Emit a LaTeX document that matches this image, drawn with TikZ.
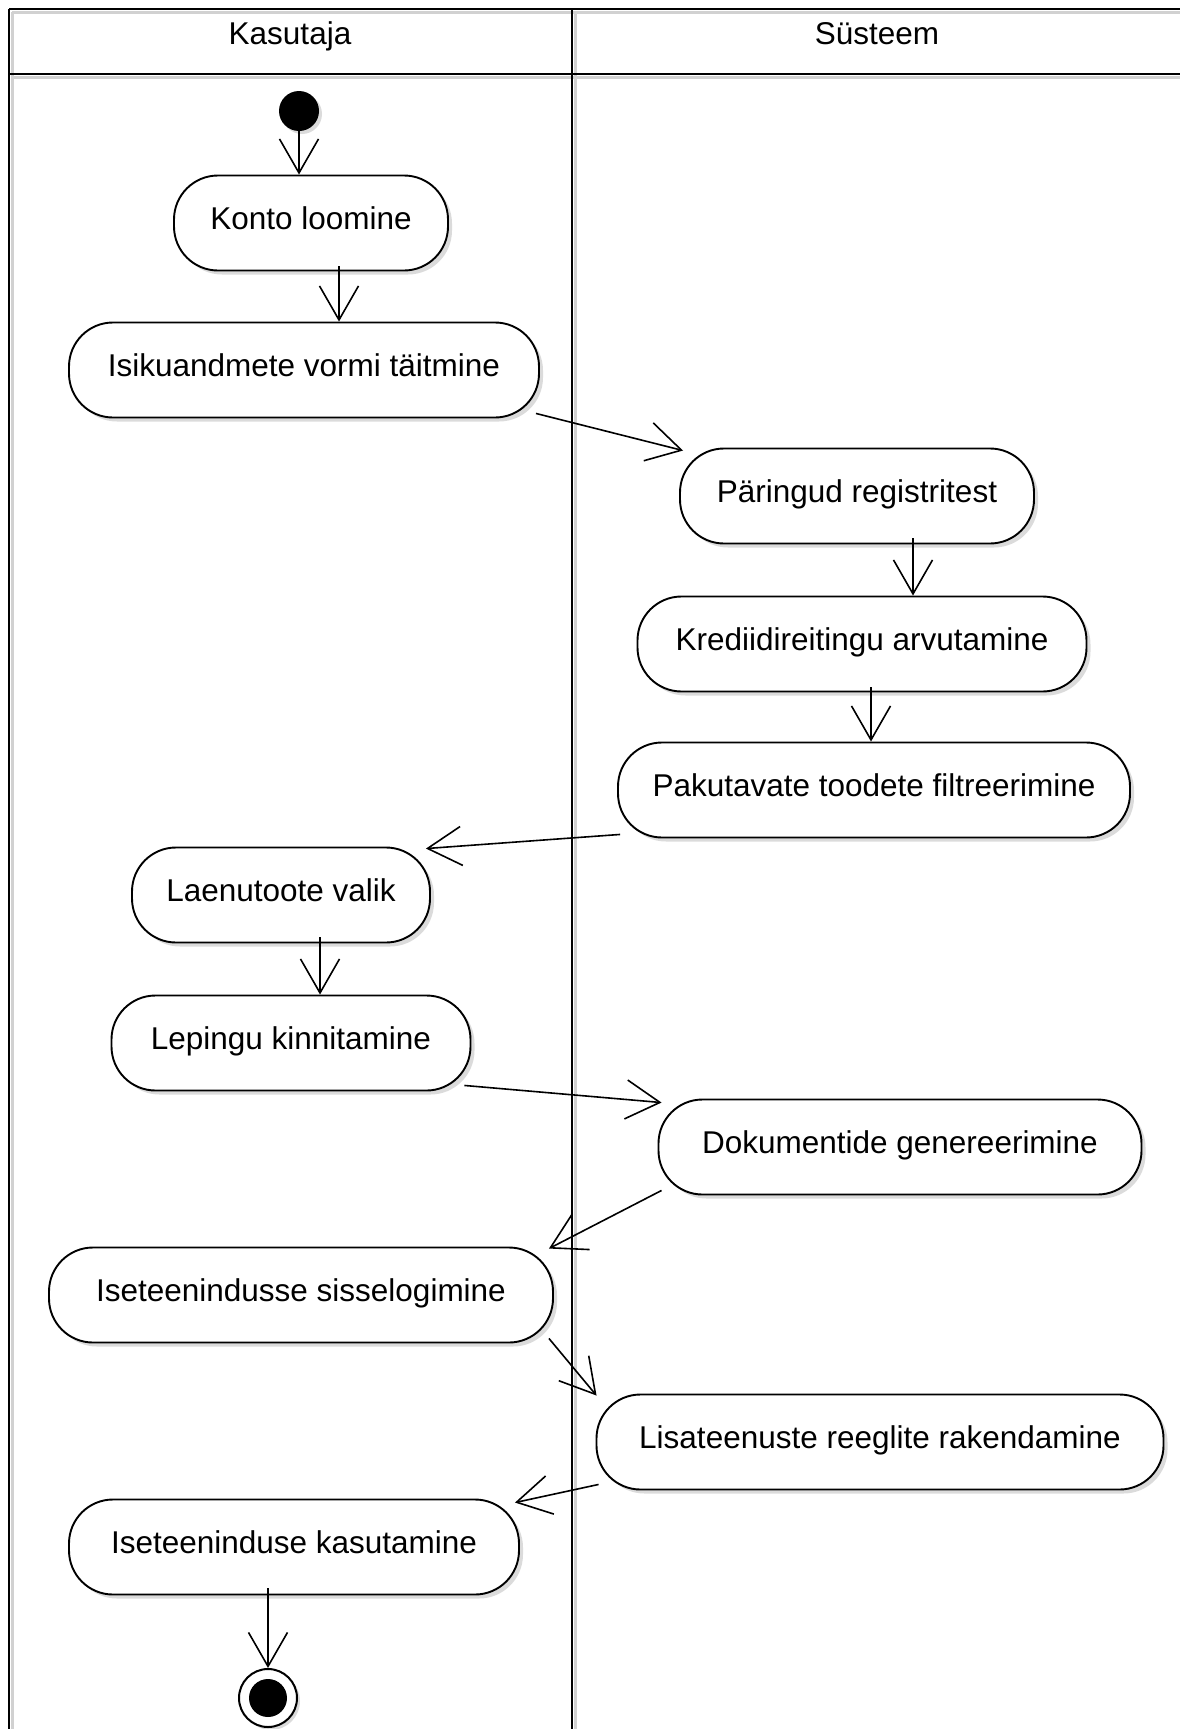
\documentclass[tikz,border=0pt]{standalone}
\usepackage{fontspec}
\setmainfont{Liberation Sans}
\usetikzlibrary{arrows.meta,shadows}
\begin{document}
\begin{tikzpicture}[x=1pt,y=-1pt,
  txt/.style={font=\fontsize{31.5}{36}\selectfont},
  act/.style={txt, draw, line width=1.9pt, rounded corners=44pt, fill=white,
    text height=23pt, text depth=11pt, inner sep=0pt, minimum height=95pt,
    drop shadow={opacity=0.28, shadow xshift=4pt, shadow yshift=-4pt}},
  flow/.style={line width=1.6pt, -{Straight Barb[length=34pt,width=39pt]}},
  frameline/.style={line width=2pt, black},
  frameshadow/.style={line width=3pt, black!18}
]
\useasboundingbox (0,0) rectangle (1180,1729);
\fill[white] (0,0) rectangle (1180,1729);
% swimlane frame
\draw[frameshadow] (12,12) -- (1180,12);
\draw[frameshadow] (12,77) -- (1180,77);
\draw[frameshadow] (12,12) -- (12,1729);
\draw[frameshadow] (575,12) -- (575,1729);
\draw[frameline] (9,9) -- (1180,9);
\draw[frameline] (9,74) -- (1180,74);
\draw[frameline] (9,9) -- (9,1729);
\draw[frameline] (572,9) -- (572,1729);
\node[txt, anchor=base] (h1) at (290,44) {Kasutaja};
\node[txt, anchor=base] (h2) at (877,44) {Süsteem};
% nodes
\node[circle, fill=black, minimum size=40pt, inner sep=0pt,
  drop shadow={opacity=0.28, shadow xshift=3pt, shadow yshift=-3pt}] (start) at (299,111) {};
\node[act, minimum width=274pt] (konto) at (311,223) {Konto loomine};
\node[act, minimum width=470pt] (isik) at (304,370) {Isikuandmete vormi täitmine};
\node[act, minimum width=354pt] (par) at (857,496) {Päringud registritest};
\node[act, minimum width=449pt] (kred) at (862,644) {Krediidireitingu arvutamine};
\node[act, minimum width=512pt] (pak) at (874,790) {Pakutavate toodete filtreerimine};
\node[act, minimum width=298pt] (laen) at (281,895) {Laenutoote valik};
\node[act, minimum width=359pt] (lep) at (291,1043) {Lepingu kinnitamine};
\node[act, minimum width=483pt] (dok) at (900,1147) {Dokumentide genereerimine};
\node[act, minimum width=504pt] (sisse) at (301,1295) {Iseteenindusse sisselogimine};
\node[act, minimum width=567pt] (lisa) at (880,1442) {Lisateenuste reeglite rakendamine};
\node[act, minimum width=450pt] (kasut) at (294,1547) {Iseteeninduse kasutamine};
\node[circle, draw, line width=2pt, fill=white, minimum size=58pt, inner sep=0pt,
  drop shadow={opacity=0.28, shadow xshift=3pt, shadow yshift=-3pt}] (end) at (268,1698) {};
\node[circle, fill=black, minimum size=38pt, inner sep=0pt] (endin) at (end) {};
% connectors
\draw[flow] (start) -- ([xshift=-12pt]konto.north);
\draw[flow] ([xshift=28pt,yshift=5pt]konto.south) -- ([xshift=35pt]isik.north);
\draw[flow] ([xshift=-4pt,yshift=5pt]isik.south east) -- ([xshift=4pt,yshift=-3pt]par.north west);
\draw[flow] ([xshift=56pt,yshift=6pt]par.south) -- ([xshift=51pt]kred.north);
\draw[flow] ([xshift=9pt,yshift=5pt]kred.south) -- ([xshift=-3pt]pak.north);
\draw[flow] ([xshift=3pt,yshift=4pt]pak.south west) -- ([xshift=-5pt,yshift=-2pt]laen.north east);
\draw[flow] ([xshift=39pt,yshift=6pt]laen.south) -- ([xshift=29pt]lep.north);
\draw[flow] ([xshift=-7pt,yshift=6pt]lep.south east) -- ([xshift=4pt,yshift=-4pt]dok.north west);
\draw[flow] ([xshift=4pt,yshift=5pt]dok.south west) -- ([xshift=-5pt,yshift=-2pt]sisse.north east);
\draw[flow] ([xshift=-5pt,yshift=5pt]sisse.south east) -- ([xshift=1pt,yshift=-2pt]lisa.north west);
\draw[flow] ([xshift=3pt,yshift=6pt]lisa.south west) -- ([xshift=-5pt,yshift=-4pt]kasut.north east);
\draw[flow] ([xshift=-26pt,yshift=7pt]kasut.south) -- (end.north);
\end{tikzpicture}
\end{document}
